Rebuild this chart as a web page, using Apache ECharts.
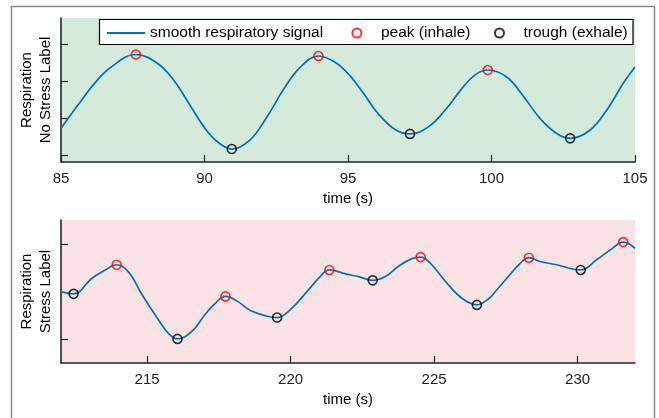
<!DOCTYPE html>
<html>
<head>
<meta charset="utf-8">
<script src="https://cdn.jsdelivr.net/npm/echarts@6/dist/echarts.min.js"></script>
<style>
  html, body { margin: 0; padding: 0; background: #fff; }
  #myChart { width: 659px; height: 418px; }
</style>
</head>
<body>
<div id="myChart"></div>
<script>
// Top panel: no stress label, 85 - 105 s
var topTime = [85.0, 85.59, 86.17, 86.75, 87.61, 88.38, 88.96, 89.54, 90.0, 90.43, 90.95,
  91.59, 92.17, 92.75, 93.33, 93.97, 94.55, 95.05, 95.5, 96.06, 96.64, 97.16, 97.8,
  98.38, 98.96, 99.43, 99.87, 100.53, 101.11, 101.69, 102.27, 102.74, 103.43, 104.01,
  104.59, 105.0];
var topResp = [0.73, 1.36, 1.95, 2.39, 2.73, 2.48, 2.0, 1.3, 0.75, 0.38, 0.17,
  0.42, 1.03, 1.78, 2.38, 2.69, 2.52, 2.17, 1.72, 1.12, 0.7, 0.58, 0.77,
  1.22, 1.8, 2.18, 2.31, 2.12, 1.6, 1.0, 0.59, 0.46, 0.68, 1.22,
  1.95, 2.39];
var topPeakTime = [87.61, 93.97, 99.87];
var topPeakVal = [2.73, 2.69, 2.31];
var topTroughTime = [90.95, 97.16, 102.74];
var topTroughVal = [0.17, 0.58, 0.46];

// Bottom panel: stress label, 212 - 232 s
var botTime = [212.0, 212.44, 213.07, 213.54, 213.94, 214.35, 214.82, 215.4, 215.74, 216.06,
  216.56, 217.0, 217.32, 217.73, 218.14, 218.6, 219.18, 219.53, 219.99, 220.57, 221.03,
  221.35, 221.95, 222.37, 222.86, 223.3, 223.76, 224.23, 224.53, 224.92, 225.39, 225.97,
  226.49, 226.92, 227.13, 227.53, 228.0, 228.3, 228.69, 229.27, 230.11, 230.67, 231.13,
  231.59, 232.0];
var botResp = [0.5, 0.477, 0.64, 0.73, 0.785, 0.71, 0.47, 0.2, 0.06, 0.0,
  0.08, 0.25, 0.36, 0.45, 0.4, 0.3, 0.24, 0.226, 0.31, 0.5, 0.66,
  0.73, 0.686, 0.66, 0.62, 0.66, 0.77, 0.85, 0.866, 0.785, 0.61, 0.43,
  0.36, 0.43, 0.5, 0.64, 0.8, 0.86, 0.82, 0.785, 0.73, 0.84, 0.94,
  1.025, 0.96];
var botPeakTime = [213.94, 217.73, 221.35, 224.53, 228.3, 231.59];
var botPeakVal = [0.785, 0.45, 0.73, 0.866, 0.86, 1.025];
var botTroughTime = [212.44, 216.06, 219.53, 222.86, 226.49, 230.11];
var botTroughVal = [0.477, 0.0, 0.226, 0.62, 0.36, 0.73];

var topXTicks = [85, 90, 95, 100, 105];
var botXTicks = [215, 220, 225, 230];
var topYTicks = [0, 1, 2, 3];
var botYTicks = [0, 1];

// pair up x and y arrays for echarts
function pairs(xs, ys) {
  return xs.map(function (x, i) { return [x, ys[i]]; });
}

var FONT = '"Liberation Sans", Arial, Helvetica, sans-serif';
var AXIS_COLOR = '#262626';
var SIGNAL = 'smooth respiratory signal';
var PEAK = 'peak (inhale)';
var TROUGH = 'trough (exhale)';

function xAxisFor(gridIndex, min, max, ticks) {
  return {
    type: 'value',
    gridIndex: gridIndex,
    min: min,
    max: max,
    name: 'time (s)',
    nameLocation: 'middle',
    nameGap: 29,
    nameTextStyle: { fontFamily: FONT, fontSize: 15, color: '#000' },
    axisLine: { onZero: false, lineStyle: { color: AXIS_COLOR, width: 1.6 } },
    axisTick: { inside: true, length: 7, customValues: ticks, lineStyle: { color: AXIS_COLOR, width: 1.2 } },
    axisLabel: { customValues: ticks, margin: 9, fontFamily: FONT, fontSize: 15, color: '#222' },
    splitLine: { show: false }
  };
}

function yAxisFor(gridIndex, min, max, ticks, label) {
  return {
    type: 'value',
    gridIndex: gridIndex,
    min: min,
    max: max,
    name: label,
    nameLocation: 'middle',
    nameGap: 6,
    nameTextStyle: { fontFamily: FONT, fontSize: 15, lineHeight: 19, color: '#000' },
    axisLine: { show: true, onZero: false, lineStyle: { color: AXIS_COLOR, width: 1.6 } },
    axisTick: { show: true, inside: true, length: 7, customValues: ticks, lineStyle: { color: AXIS_COLOR, width: 1.2 } },
    axisLabel: { show: false },
    splitLine: { show: false }
  };
}

function signalSeries(idx, data) {
  return {
    name: SIGNAL,
    type: 'line',
    xAxisIndex: idx,
    yAxisIndex: idx,
    data: data,
    smooth: 0.4,
    symbol: 'none',
    lineStyle: { color: '#0072BD', width: 1.7 },
    itemStyle: { color: '#0072BD' },
    z: 2
  };
}

function markerSeries(idx, name, color, data) {
  return {
    name: name,
    type: 'scatter',
    xAxisIndex: idx,
    yAxisIndex: idx,
    data: data,
    symbol: 'circle',
    symbolSize: 9,
    itemStyle: { color: 'rgba(0,0,0,0)', borderColor: color, borderWidth: 1.6 },
    z: 3
  };
}

// one legend per entry so each sits where the reference has it
function legendAt(left, name, extra) {
  var item = { name: name };
  if (extra) item.itemStyle = extra;
  return {
    left: left,
    top: 25,
    data: [item],
    itemWidth: 38,
    itemHeight: 9,
    padding: 0,
    textStyle: { fontFamily: FONT, fontSize: 15.5, color: '#000' },
    z: 10
  };
}

var myChart = echarts.init(document.getElementById('myChart'));

var option = {
  animation: false,
  backgroundColor: '#fff',
  textStyle: { fontFamily: FONT },
  graphic: [{
    type: 'rect',
    shape: { x: 11.5, y: 6.5, width: 643, height: 440 },
    style: { fill: 'none', stroke: '#8a8a8a', lineWidth: 1.5 },
    silent: true
  }, {
    type: 'rect',
    shape: { x: 99.5, y: 19.5, width: 533.5, height: 25 },
    style: { fill: '#fff', stroke: '#000', lineWidth: 1.2 },
    silent: true,
    z: 8
  }],
  legend: [
    legendAt(106, SIGNAL, { color: 'rgba(0,0,0,0)', borderWidth: 0, opacity: 0 }),
    legendAt(351.4, PEAK),
    legendAt(494, TROUGH)
  ],
  grid: [
    { left: 61, top: 18, width: 574, height: 144, show: true, backgroundColor: '#d4eadb', borderWidth: 0 },
    { left: 61, top: 220, width: 574, height: 143, show: true, backgroundColor: '#fbe3e5', borderWidth: 0 }
  ],
  xAxis: [
    xAxisFor(0, 85, 105, topXTicks),
    xAxisFor(1, 212, 232, botXTicks)
  ],
  yAxis: [
    yAxisFor(0, -0.181, 3.719, topYTicks, 'Respiration\nNo Stress Label'),
    yAxisFor(1, -0.255, 1.259, botYTicks, 'Respiration\nStress Label')
  ],
  series: [
    signalSeries(0, pairs(topTime, topResp)),
    markerSeries(0, PEAK, '#ff0000', pairs(topPeakTime, topPeakVal)),
    markerSeries(0, TROUGH, '#000000', pairs(topTroughTime, topTroughVal)),
    signalSeries(1, pairs(botTime, botResp)),
    markerSeries(1, PEAK, '#ff0000', pairs(botPeakTime, botPeakVal)),
    markerSeries(1, TROUGH, '#000000', pairs(botTroughTime, botTroughVal))
  ]
};

myChart.setOption(option);
</script>
</body>
</html>
